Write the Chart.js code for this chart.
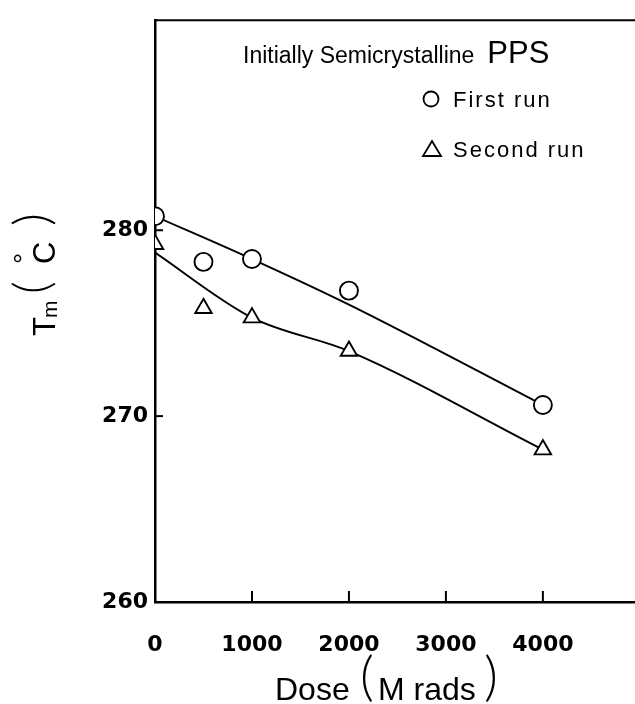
<!DOCTYPE html>
<html>
<head>
<meta charset="utf-8">
<script src="https://cdn.jsdelivr.net/npm/chart.js@4.4.1/dist/chart.umd.min.js"></script>
<style>
  html, body { margin: 0; padding: 0; background: #fff; }
  #wrap { width: 635px; height: 704px; }
</style>
</head>
<body>
<div id="wrap"><canvas id="chart-tm"></canvas></div>
<script>
// dose in Mrads, melting point in deg C
var doses = [0, 500, 1000, 2000, 4000];
var firstRun = [280.75, 278.3, 278.45, 276.75, 270.6];
var secondRun = [279.25, 275.8, 275.3, 273.5, 268.2];

// hand drawn fit curves (they skip the 500 points)
var fitDoses = [0, 1000, 2000, 4000];
var firstFit = [280.75, 278.45, 276.0, 270.6];
var secondFit = [278.8, 275.3, 273.5, 268.2];

var xTicks = [0, 1000, 2000, 3000, 4000];
var yTicks = [260, 270, 280];

function pairs(xs, ys) {
  return xs.map(function (x, i) { return { x: x, y: ys[i] }; });
}

var decor = {
  id: "decor",
  afterDraw: function (chart) {
    var c = chart.ctx;
    var area = chart.chartArea;
    var xs = chart.scales.x;
    var ys = chart.scales.y;
    c.save();
    c.strokeStyle = "#000";
    c.fillStyle = "#000";

    // top frame line
    c.lineWidth = 2;
    c.beginPath();
    c.moveTo(area.left, area.top);
    c.lineTo(area.right, area.top);
    c.stroke();

    // inward tick marks
    c.lineWidth = 2;
    xTicks.forEach(function (v) {
      if (v === 0) return;
      var px = xs.getPixelForValue(v);
      c.beginPath();
      c.moveTo(px, area.bottom);
      c.lineTo(px, area.bottom - 11);
      c.stroke();
    });
    yTicks.forEach(function (v) {
      if (v === 260) return;
      var py = ys.getPixelForValue(v);
      c.beginPath();
      c.moveTo(area.left, py);
      c.lineTo(area.left + 8, py);
      c.stroke();
    });

    // legend text
    c.textBaseline = "alphabetic";
    c.textAlign = "left";
    c.font = "23px 'Liberation Sans'";
    c.fillText("Initially Semicrystalline", 243, 63);
    var w = c.measureText("Initially Semicrystalline").width;
    c.font = "31px 'Liberation Sans'";
    c.fillText("PPS", 243 + w + 13, 63);

    c.font = "22px 'Liberation Sans'";
    c.letterSpacing = "2px";
    c.fillText("First run", 453, 107);
    c.fillText("Second run", 453, 157);
    c.letterSpacing = "0px";

    c.lineWidth = 1.8;
    c.beginPath();
    c.arc(431, 99, 7.5, 0, Math.PI * 2);
    c.stroke();
    c.beginPath();
    c.moveTo(432, 141);
    c.lineTo(441, 156);
    c.lineTo(423, 156);
    c.closePath();
    c.stroke();

    // x axis title
    c.font = "32px 'Liberation Sans'";
    c.fillText("Dose", 275, 700);
    c.fillText("M rads", 378, 700);
    c.font = "300 54px 'Lato'";
    c.fillText("(", 360, 695);
    c.fillText(")", 484, 695);

    // y axis title, rotated
    c.translate(55, 336);
    c.rotate(-Math.PI / 2);
    c.font = "31px 'Liberation Sans'";
    c.fillText("T", 0, 0);
    c.font = "21px 'Liberation Sans'";
    c.fillText("m", 18, 2);
    c.font = "31px 'Liberation Sans'";
    c.fillText("C", 72, 0);
    c.font = "28px 'Liberation Sans'";
    c.fillText("\u00b0", 72, -22);
    c.font = "300 50px 'Lato'";
    c.fillText("(", 42, -6);
    c.fillText(")", 110, -6);
    c.restore();
  },
};

var ctx = document.getElementById("chart-tm").getContext("2d");

new Chart(ctx, {
  type: "line",
  data: {
    datasets: [
      {
        label: "First run fit",
        data: pairs(fitDoses, firstFit),
        borderColor: "#000",
        borderWidth: 1.9,
        pointRadius: 0,
        cubicInterpolationMode: "monotone",
        order: 3,
      },
      {
        label: "Second run fit",
        data: pairs(fitDoses, secondFit),
        borderColor: "#000",
        borderWidth: 1.9,
        pointRadius: 0,
        cubicInterpolationMode: "monotone",
        order: 4,
      },
      {
        label: "First run",
        data: pairs(doses, firstRun),
        showLine: false,
        pointStyle: "circle",
        pointRadius: 9,
        pointBorderWidth: 1.9,
        pointBorderColor: "#000",
        pointBackgroundColor: "#fff",
        order: 1,
      },
      {
        label: "Second run",
        data: pairs(doses, secondRun),
        showLine: false,
        pointStyle: "triangle",
        pointRadius: 9.5,
        pointBorderWidth: 1.9,
        pointBorderColor: "#000",
        pointBackgroundColor: "#fff",
        order: 2,
      },
    ],
  },
  options: {
    responsive: true,
    maintainAspectRatio: false,
    animation: false,
    layout: {
      autoPadding: false,
      padding: { top: 13, right: 0, bottom: 0, left: 0 },
    },
    plugins: {
      legend: { display: false },
      tooltip: { enabled: false },
    },
    scales: {
      x: {
        type: "linear",
        min: 0,
        max: 4950,
        afterBuildTicks: function (s) {
          s.ticks = xTicks.map(function (v) { return { value: v }; });
        },
        afterFit: function (s) {
          s.height = 102;
        },
        grid: { display: false, drawTicks: false },
        border: { display: true, color: "#000", width: 2.5 },
        ticks: {
          padding: 30,
          color: "#000",
          maxRotation: 0,
          font: { family: "DejaVu Sans", size: 22, weight: "bold" },
          callback: function (v) { return String(v); },
        },
      },
      y: {
        type: "linear",
        min: 260,
        max: 291.3,
        afterBuildTicks: function (s) {
          s.ticks = yTicks.map(function (v) { return { value: v }; });
        },
        afterFit: function (s) {
          s.width = 155;
        },
        grid: { display: false, drawTicks: false },
        border: { display: true, color: "#000", width: 2.5 },
        ticks: {
          padding: 7,
          color: "#000",
          font: { family: "DejaVu Sans", size: 22, weight: "bold" },
          callback: function (v) { return String(v); },
        },
      },
    },
  },
  plugins: [decor],
});
</script>
</body>
</html>
